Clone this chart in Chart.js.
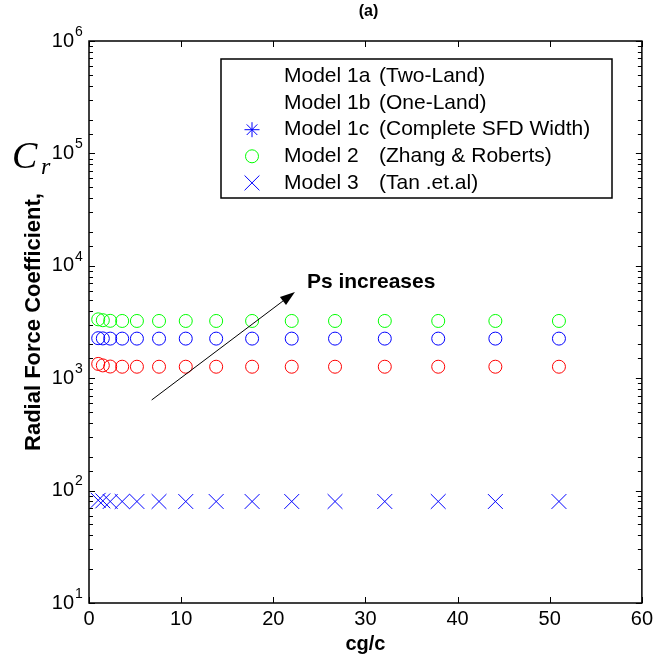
<!DOCTYPE html>
<html><head><meta charset="utf-8">
<script src="https://cdn.jsdelivr.net/npm/chart.js@4.4.1/dist/chart.umd.min.js"></script>
<style>html,body{margin:0;padding:0;background:#fff}#wrap{width:657px;height:670px;position:relative}</style>
</head><body><div id="wrap"><canvas id="c" width="657" height="670"></canvas></div>
<script>
// ---- data ----
const cgc          = [1.0, 1.5, 2.3, 3.6, 5.2, 7.6, 10.5, 13.8, 17.7, 22.0, 26.7, 32.1, 37.9, 44.1, 51.0];
const redCircles   = [1340, 1300, 1270, 1265, 1265, 1265, 1265, 1265, 1265, 1265, 1265, 1265, 1265, 1265, 1265];
const blueCircles  = [2270, 2260, 2250, 2250, 2250, 2250, 2250, 2250, 2250, 2250, 2250, 2250, 2250, 2250, 2250];
const greenCircles = [3340, 3280, 3240, 3230, 3230, 3230, 3230, 3230, 3230, 3230, 3230, 3230, 3230, 3230, 3230];
const crosses      = [82, 81, 80, 80, 80, 80, 80, 80, 80, 80, 80, 80, 80, 80, 80];
const xTickValues  = [0, 10, 20, 30, 40, 50, 60];
const yDecades     = [10, 100, 1000, 10000, 100000, 1000000];
const yExponents   = ['1', '2', '3', '4', '5', '6'];
const legendModels = ['Model 1a', 'Model 1b', 'Model 1c', 'Model 2', 'Model 3'];
const legendNotes  = ['(Two-Land)', '(One-Land)', '(Complete SFD Width)', '(Zhang & Roberts)', '(Tan .et.al)'];
const legendMarks  = ['none', 'none', 'star', 'circle', 'crossRot'];
const legendColors = ['#ffffff', '#ffffff', '#0000ff', '#00ff00', '#0000ff'];
const arrowFrom    = [6.8, 640];
const arrowTo      = [22.35, 5850];
const arrowText    = 'Ps increases';
const arrowTextAt  = [23.65, 7180];
const titleText    = '(a)';
const xTitle       = 'cg/c';
const yTitle       = 'Radial Force Coefficient,';

const SANS = '"Liberation Sans", Arial, Helvetica, sans-serif';
const SERIF = '"Liberation Serif", "Times New Roman", serif';
const pts = v => cgc.map((x, i) => ({x: x, y: v[i]}));

function legendPoint(ctx, style, color, px, py) {
  ctx.save();
  ctx.strokeStyle = color;
  ctx.fillStyle = 'rgba(0,0,0,0)';
  ctx.lineWidth = 1;
  const r = style === 'circle' ? 6.5 : (style === 'star' ? 7.5 : 10.5);
  Chart.helpers.drawPoint(ctx, {pointStyle: style, radius: r, borderWidth: 1, rotation: 0}, px, py);
  ctx.restore();
}

const decor = {
  id: 'decor',
  afterDraw(chart) {
    const {ctx, chartArea: a, scales: {x, y}} = chart;
    ctx.save();
    // axes box
    ctx.strokeStyle = '#000';
    ctx.lineWidth = 1.5;
    ctx.strokeRect(a.left, a.top, a.right - a.left, a.bottom - a.top);
    // inward ticks, mirrored
    ctx.lineWidth = 1;
    ctx.beginPath();
    xTickValues.forEach(v => {
      const px = Math.round(x.getPixelForValue(v)) + 0.5;
      ctx.moveTo(px, a.bottom); ctx.lineTo(px, a.bottom - 6);
      ctx.moveTo(px, a.top); ctx.lineTo(px, a.top + 6);
    });
    y.ticks.forEach(t => {
      const major = yDecades.includes(t.value);
      const L = major ? 6 : 4;
      const py = Math.round(y.getPixelForValue(t.value)) + 0.5;
      ctx.moveTo(a.left, py); ctx.lineTo(a.left + L, py);
      ctx.moveTo(a.right, py); ctx.lineTo(a.right - L, py);
    });
    ctx.stroke();
    // exponents of y tick labels
    ctx.fillStyle = '#000';
    ctx.font = '14px ' + SANS;
    ctx.textAlign = 'left';
    ctx.textBaseline = 'middle';
    yDecades.forEach((v, i) => {
      const py = y.getPixelForValue(v);
      ctx.fillText(yExponents[i], a.left - 14, py - 9);
    });
    // C_r symbol
    ctx.font = 'italic 38px ' + SERIF;
    ctx.textAlign = 'left';
    ctx.textBaseline = 'alphabetic';
    ctx.fillText('C', 12, 168);
    ctx.font = 'italic 24px ' + SERIF;
    ctx.fillText('r', 41, 174);
    // title
    ctx.font = 'bold 16px ' + SANS;
    ctx.textAlign = 'center';
    ctx.textBaseline = 'middle';
    ctx.fillText(titleText, (a.left + a.right) / 2 + 3, 12);
    // arrow annotation
    const x0 = x.getPixelForValue(arrowFrom[0]), y0 = y.getPixelForValue(arrowFrom[1]);
    const x1 = x.getPixelForValue(arrowTo[0]), y1 = y.getPixelForValue(arrowTo[1]);
    const ang = Math.atan2(y1 - y0, x1 - x0);
    const hl = 15, hw = 5;
    const bx = x1 - hl * Math.cos(ang), by = y1 - hl * Math.sin(ang);
    ctx.strokeStyle = '#000';
    ctx.fillStyle = '#000';
    ctx.lineWidth = 1;
    ctx.beginPath(); ctx.moveTo(x0, y0); ctx.lineTo(bx, by); ctx.stroke();
    ctx.beginPath();
    ctx.moveTo(x1, y1);
    ctx.lineTo(bx + hw * Math.sin(ang), by - hw * Math.cos(ang));
    ctx.lineTo(bx - hw * Math.sin(ang), by + hw * Math.cos(ang));
    ctx.closePath(); ctx.fill();
    ctx.font = 'bold 21px ' + SANS;
    ctx.textAlign = 'left';
    ctx.textBaseline = 'middle';
    ctx.fillText(arrowText, x.getPixelForValue(arrowTextAt[0]), y.getPixelForValue(arrowTextAt[1]));
    // legend box
    const L = {left: 221, top: 59, right: 612, bottom: 198};
    ctx.fillStyle = '#fff';
    ctx.fillRect(L.left, L.top, L.right - L.left, L.bottom - L.top);
    ctx.strokeStyle = '#000';
    ctx.lineWidth = 1.5;
    ctx.strokeRect(L.left, L.top, L.right - L.left, L.bottom - L.top);
    const rowH = 26.6, firstRow = L.top + 17.5;
    legendModels.forEach((m, i) => {
      const cy = firstRow + i * rowH;
      if (legendMarks[i] !== 'none') legendPoint(ctx, legendMarks[i], legendColors[i], 252, cy);
      ctx.fillStyle = '#000';
      ctx.font = '21px ' + SANS;
      ctx.textAlign = 'left';
      ctx.textBaseline = 'middle';
      ctx.fillText(m, 284, cy);
      ctx.fillText(legendNotes[i], 379, cy);
    });
    ctx.restore();
  }
};

const common = {showLine: false, pointBorderWidth: 1, pointBackgroundColor: 'rgba(0,0,0,0)', pointHoverRadius: 0};

new Chart(document.getElementById('c'), {
  type: 'scatter',
  data: {
    datasets: [
      Object.assign({label: 'Ps 1', data: pts(redCircles),   pointStyle: 'circle',   pointRadius: 6.5, pointBorderColor: '#ff0000'}, common),
      Object.assign({label: 'Ps 2', data: pts(blueCircles),  pointStyle: 'circle',   pointRadius: 6.5, pointBorderColor: '#0000ff'}, common),
      Object.assign({label: 'Ps 3', data: pts(greenCircles), pointStyle: 'circle',   pointRadius: 6.5, pointBorderColor: '#00ff00'}, common),
      Object.assign({label: 'Model 3', data: pts(crosses),   pointStyle: 'crossRot', pointRadius: 10.5, pointBorderColor: '#0000ff'}, common)
    ]
  },
  options: {
    responsive: false,
    animation: false,
    events: [],
    layout: {padding: {left: 0, right: 15, top: 41, bottom: 0}, autoPadding: false},
    plugins: {legend: {display: false}, tooltip: {enabled: false}, title: {display: false}},
    scales: {
      x: {
        type: 'linear', min: 0, max: 60,
        afterBuildTicks: s => { s.ticks = xTickValues.map(v => ({value: v})); },
        afterFit: s => { s.height = 67; },
        ticks: {color: '#000', font: {family: SANS, size: 20}, padding: 4, maxRotation: 0},
        grid: {display: false, drawTicks: false},
        border: {display: false},
        title: {display: true, text: xTitle, color: '#000', font: {family: SANS, size: 20, weight: 'bold'}, padding: {top: 0, bottom: 14}}
      },
      y: {
        type: 'logarithmic', min: 10, max: 1000000,
        afterFit: s => { s.width = 89; },
        ticks: {
          color: '#000', font: {family: SANS, size: 20}, padding: 15, autoSkip: false,
          callback: v => yDecades.includes(v) ? '10' : ''
        },
        grid: {display: false, drawTicks: false},
        border: {display: false},
        title: {display: true, text: yTitle, color: '#000', font: {family: SANS, size: 22, weight: 'bold'}, padding: {top: 21, bottom: 0}}
      }
    }
  },
  plugins: [decor]
});
</script>
</body></html>
